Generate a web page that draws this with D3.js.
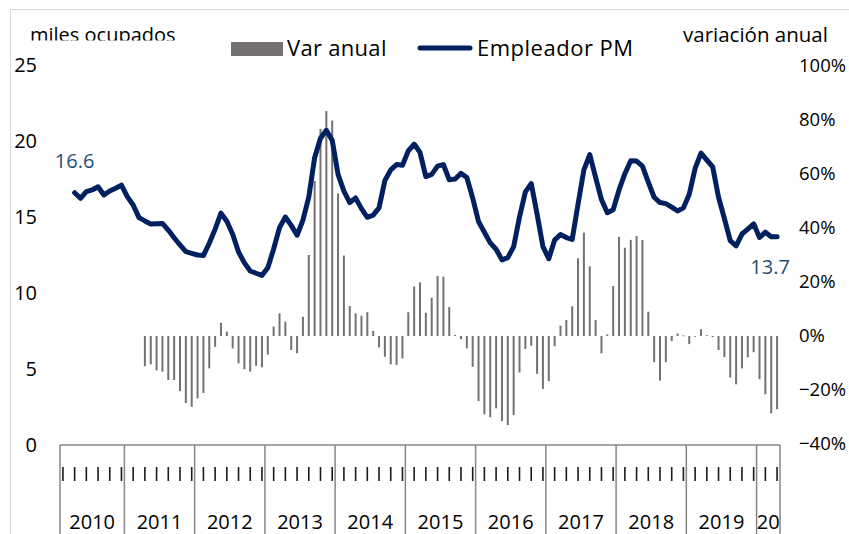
<!DOCTYPE html>
<html>
<head>
<meta charset="utf-8">
<script src="https://cdn.jsdelivr.net/npm/d3@7"></script>
<style>
  body { margin: 0; background: #fff; }
  svg text { font-family: "Open Sans", "Liberation Sans", sans-serif; }
</style>
</head>
<body>
<div id="chart"></div>
<script>
// categories: months Feb 2010 .. Apr 2020, grouped by year
var yearLabels = ["2010", "2011", "2012", "2013", "2014", "2015", "2016", "2017", "2018", "2019", "20"];
var monthsInYear = [11, 12, 12, 12, 12, 12, 12, 12, 12, 12, 4];

// Empleador PM, miles ocupados (left axis)
var empleadorPM = [
  null, null, 16.6, 16.23, 16.67, 16.78, 16.99, 16.45, 16.71, 16.89, 17.1,
  16.34, 15.79, 14.96, 14.74, 14.54, 14.56, 14.58, 14.14, 13.64, 13.16, 12.72, 12.61, 12.5,
  12.46, 13.27, 14.2, 15.25, 14.72, 13.87, 12.7, 11.98, 11.45, 11.3, 11.16, 11.66,
  12.9, 14.3, 15.0, 14.45, 13.8, 14.8, 16.3, 18.9, 20.18, 20.7, 20.05, 17.8,
  16.7, 15.95, 16.25, 15.55, 14.98, 15.12, 15.6, 17.4, 18.1, 18.45, 18.4, 19.35,
  19.8, 19.25, 17.66, 17.8, 18.35, 18.45, 17.45, 17.5, 17.87, 17.6, 16.25, 14.7,
  14.0, 13.3, 12.88, 12.18, 12.33, 13.05, 15.0, 16.65, 17.2, 15.2, 13.05, 12.26,
  13.48, 13.85, 13.65, 13.52, 15.85, 18.1, 19.1, 17.6, 16.15, 15.28, 15.48, 16.78,
  17.85, 18.7, 18.68, 18.35, 17.3, 16.3, 15.95, 15.88, 15.65, 15.4, 15.6, 16.5,
  18.2, 19.2, 18.75, 18.3, 16.3, 14.9, 13.45, 13.1, 13.88, 14.2, 14.55, 13.65,
  14.0, 13.7, 13.7
];

// Var anual (right axis)
var varAnual = [
  null, null, null, null, null, null, null, null, null, null, null,
  null, null, null, -0.112, -0.105, -0.127, -0.132, -0.163, -0.163, -0.204, -0.248, -0.262, -0.231,
  -0.211, -0.120, -0.040, 0.049, 0.016, -0.046, -0.101, -0.123, -0.132, -0.110, -0.116, -0.069,
  0.035, 0.084, 0.053, -0.052, -0.064, 0.071, 0.300, 0.574, 0.767, 0.833, 0.798, 0.528,
  0.298, 0.111, 0.084, 0.075, 0.088, 0.019, -0.042, -0.077, -0.105, -0.107, -0.083, 0.088,
  0.183, 0.199, 0.086, 0.142, 0.222, 0.220, 0.107, 0.004, -0.012, -0.046, -0.114, -0.241,
  -0.290, -0.301, -0.268, -0.315, -0.330, -0.293, -0.135, -0.048, -0.036, -0.140, -0.196, -0.167,
  -0.038, 0.038, 0.059, 0.110, 0.288, 0.383, 0.258, 0.059, -0.064, 0.006, 0.185, 0.367,
  0.327, 0.356, 0.370, 0.356, 0.090, -0.097, -0.165, -0.097, -0.019, 0.009, 0.002, -0.030,
  -0.002, 0.025, 0.003, -0.004, -0.052, -0.078, -0.154, -0.179, -0.120, -0.079, -0.060, -0.160,
  -0.216, -0.286, -0.271
];

var leftTicks = [0, 5, 10, 15, 20, 25];
var rightTicks = [-0.4, -0.2, 0, 0.2, 0.4, 0.6, 0.8, 1.0];

var svgWidth = 849;
var svgHeight = 534;
var plot = { left: 60, right: 780, top: 65, bottom: 445 };

var svg = d3.select("#chart")
  .append("svg")
  .attr("width", svgWidth)
  .attr("height", svgHeight);

// chart border
svg.append("rect")
  .attr("x", 10.5).attr("y", 9.5)
  .attr("width", 900).attr("height", 600)
  .attr("fill", "none")
  .attr("stroke", "#d9d9d9");

// build categories
var categories = [];
yearLabels.forEach(function(y, k) {
  for (var m = 0; m < monthsInYear[k]; m++) categories.push(k + "-" + m);
});

var xScale = d3.scaleBand()
  .domain(categories)
  .range([plot.left, plot.right]);

var yLeft = d3.scaleLinear().domain([0, 25]).range([plot.bottom, plot.top]);
var yRight = d3.scaleLinear().domain([-0.4, 1.0]).range([444, 66]);

var cx = function(i) { return xScale(categories[i]) + xScale.bandwidth() / 2; };

// left axis labels
var leftAxis = d3.axisLeft(yLeft).tickValues(leftTicks).tickSize(0).tickPadding(0);
var gl = svg.append("g").attr("transform", "translate(37,0)").call(leftAxis);
gl.select(".domain").remove();
gl.selectAll("text").attr("font-size", "20px").attr("fill", "#000")
  .style("font-family", "'Open Sans', sans-serif");

// right axis labels
var rightAxis = d3.axisRight(yRight).tickValues(rightTicks).tickSize(0).tickPadding(0)
  .tickFormat(d3.format(".0%"));
var gr = svg.append("g").attr("transform", "translate(799,0)").call(rightAxis);
gr.select(".domain").remove();
gr.selectAll("text").attr("font-size", "18.5px").attr("fill", "#000")
  .style("font-family", "'Open Sans', sans-serif");

// bars
var barData = varAnual.map(function(v, i) { return { i: i, v: v }; })
  .filter(function(d) { return d.v !== null; });

svg.append("g").selectAll("rect")
  .data(barData)
  .enter()
  .append("rect")
  .attr("x", d => cx(d.i) - 1)
  .attr("width", 2)
  .attr("y", d => Math.min(yRight(d.v), yRight(0)))
  .attr("height", d => Math.max(0.8, Math.abs(yRight(d.v) - yRight(0))))
  .attr("fill", "#767171");

// line
var lineData = empleadorPM.map(function(v, i) { return { i: i, v: v }; });
var line = d3.line()
  .defined(d => d.v !== null)
  .x(d => cx(d.i))
  .y(d => yLeft(d.v));

svg.append("path")
  .datum(lineData)
  .attr("d", line)
  .attr("fill", "none")
  .attr("stroke", "#002060")
  .attr("stroke-width", 5)
  .attr("stroke-linejoin", "round")
  .attr("stroke-linecap", "round");

// data labels on first and last point
var firstIdx = 2, lastIdx = empleadorPM.length - 1;
svg.append("text")
  .attr("x", cx(firstIdx))
  .attr("y", yLeft(empleadorPM[firstIdx]) - 25)
  .attr("text-anchor", "middle")
  .attr("font-size", "20px")
  .attr("fill", "#1f4e79")
  .text(empleadorPM[firstIdx].toFixed(1));
svg.append("text")
  .attr("x", cx(lastIdx) - 7)
  .attr("y", yLeft(empleadorPM[lastIdx]) + 37)
  .attr("text-anchor", "middle")
  .attr("font-size", "20px")
  .attr("fill", "#1f4e79")
  .text(empleadorPM[lastIdx].toFixed(1));

// category axis: line, year boxes, month marks
var axisG = svg.append("g");
axisG.append("line")
  .attr("x1", plot.left).attr("x2", plot.right)
  .attr("y1", plot.bottom).attr("y2", plot.bottom)
  .attr("stroke", "#868686").attr("stroke-width", 1.5);

var start = 0;
var yearBoxes = yearLabels.map(function(y, k) {
  var b = { label: y, from: start, to: start + monthsInYear[k] - 1 };
  start += monthsInYear[k];
  return b;
});

axisG.selectAll(".sep")
  .data(yearBoxes)
  .enter()
  .append("line")
  .attr("x1", d => xScale(categories[d.from]))
  .attr("x2", d => xScale(categories[d.from]))
  .attr("y1", plot.bottom).attr("y2", svgHeight)
  .attr("stroke", "#868686").attr("stroke-width", 1.5);
axisG.append("line")
  .attr("x1", plot.right).attr("x2", plot.right)
  .attr("y1", plot.bottom).attr("y2", svgHeight)
  .attr("stroke", "#868686").attr("stroke-width", 1.5);

axisG.selectAll(".mark")
  .data(categories.filter((c, i) => i % 2 === 0))
  .enter()
  .append("line")
  .attr("x1", d => xScale(d) + xScale.bandwidth() / 2)
  .attr("x2", d => xScale(d) + xScale.bandwidth() / 2)
  .attr("y1", 467).attr("y2", 481)
  .attr("stroke", "#1a1a1a").attr("stroke-width", 1.6);

axisG.selectAll(".yr")
  .data(yearBoxes)
  .enter()
  .append("text")
  .attr("x", d => (xScale(categories[d.from]) + xScale(categories[d.to]) + xScale.bandwidth()) / 2)
  .attr("y", 529)
  .attr("text-anchor", "middle")
  .attr("font-size", "20px")
  .attr("fill", "#000")
  .text(d => d.label);

// axis titles
svg.append("clipPath").attr("id", "titleClip")
  .append("rect").attr("x", 0).attr("y", 0).attr("width", 300).attr("height", 40.5);
svg.append("text")
  .attr("clip-path", "url(#titleClip)")
  .attr("x", 30).attr("y", 42)
  .attr("font-size", "20px")
  .attr("fill", "#000")
  .text("miles ocupados");
svg.append("text")
  .attr("x", 683).attr("y", 42)
  .attr("font-size", "20.5px")
  .attr("fill", "#000")
  .text("variación anual");

// legend
var legend = svg.append("g");
legend.append("rect")
  .attr("x", 231).attr("y", 42).attr("width", 52).attr("height", 14)
  .attr("fill", "#767171");
legend.append("text")
  .attr("x", 287).attr("y", 56)
  .attr("font-size", "22px")
  .attr("letter-spacing", "0.3px")
  .attr("fill", "#000")
  .text("Var anual");
legend.append("line")
  .attr("x1", 420).attr("x2", 470).attr("y1", 48).attr("y2", 48)
  .attr("stroke", "#002060").attr("stroke-width", 5).attr("stroke-linecap", "round");
legend.append("text")
  .attr("x", 477).attr("y", 56)
  .attr("font-size", "22px")
  .attr("letter-spacing", "0.5px")
  .attr("fill", "#000")
  .text("Empleador PM");
</script>
</body>
</html>
